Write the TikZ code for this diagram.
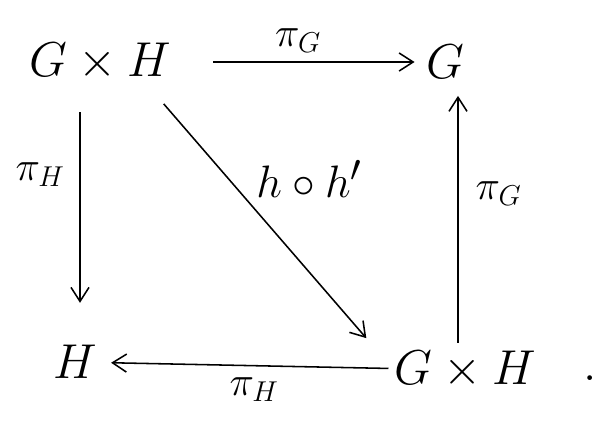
\documentclass[tikz,border=0pt]{standalone}
\usepackage{amsmath,amssymb}
\usepackage{graphicx}
\usepackage{tikz}
\usetikzlibrary{positioning, arrows.meta}

\newcommand{\obj}[2][1.4]{\scalebox{#1}{$#2$}}

\begin{document}
\begin{tikzpicture}[
    x=0.025cm, y=-0.025cm,
    every node/.style={font=\Huge},
    object/.style={inner sep=2pt},
    lbl/.style={font=\LARGE, inner sep=2pt},
    arrow/.style={-{Straight Barb[length=3.5mm, width=4.5mm]}, line width=1.1pt},
]
\useasboundingbox (0,0) rectangle (602,430);

% Objects
\node[object] (gh1) at (100,62) {\obj{G \times H}};
\node[object] (g) at (445,62) {\obj{G}};
\node[object] (h) at (75,362) {\obj{H}};
\node[object] (gh2) at (465,370) {\obj{G \times H}};
\node (dot) at (590,378) {\obj{.}};

% Arrows
\draw[arrow, shorten <=28pt, shorten >=6pt] (gh1) -- node[lbl, above=4pt] {\obj[1.7]{\pi_G}} (g);
\draw[arrow, shorten <=20pt, shorten >=28pt] (gh1.south -| 80,0) -- node[lbl, pos=0.35, left=8pt] {\obj[1.7]{\pi_H}} (h.north -| 80,0);
\draw[arrow] ([shift={(-10,20)}]gh1.south east) -- node[pos=0.32, right=16pt] {\obj[1.3]{h \circ h'}} ([shift={(-25,-10)}]gh2.north west);
\draw[arrow, shorten <=4pt, shorten >=10pt] (gh2.north -| 458,0) -- node[lbl, pos=0.58, right=10pt] {\obj[1.7]{\pi_G}} (g.south -| 458,0);
\draw[arrow, shorten <=2pt, shorten >=8pt] (gh2) -- node[lbl, pos=0.47, below=6pt] {\obj[1.7]{\pi_H}} (h);

\end{tikzpicture}
\end{document}
